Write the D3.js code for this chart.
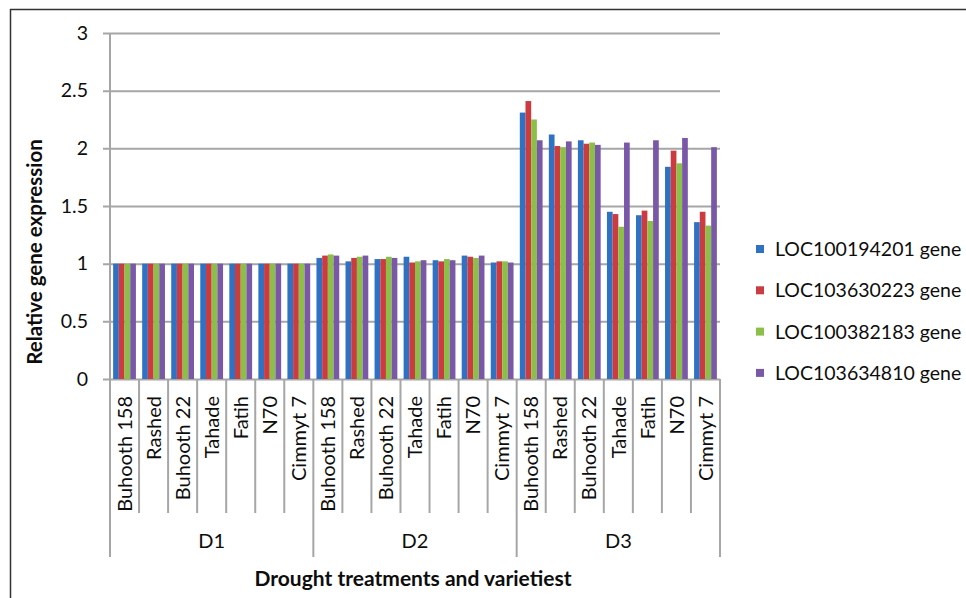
<!DOCTYPE html>
<html>
<head>
<meta charset="utf-8">
<script src="https://cdn.jsdelivr.net/npm/d3@7/dist/d3.min.js"></script>
<style>
  html, body { margin: 0; padding: 0; background: #fff; }
  svg { display: block; font-family: Lato, "Open Sans", sans-serif; }
</style>
</head>
<body>
<svg id="chart" width="966" height="598"></svg>
<script>
// Treatments, varieties and gene series
const treatments = ["D1", "D2", "D3"];
const varieties = ["Buhooth 158", "Rashed", "Buhooth 22", "Tahade", "Fatih", "N70", "Cimmyt 7"];
const genes = ["LOC100194201 gene", "LOC103630223 gene", "LOC100382183 gene", "LOC103634810 gene"];
const geneColors = ["#2f72c4", "#cc3b3f", "#8cbf48", "#7a58a8"];
const yTicks = [0, 0.5, 1, 1.5, 2, 2.5, 3];

// Relative expression per gene, ordered D1 varieties, then D2, then D3
const loc100194201 = [1, 1, 1, 1, 1, 1, 1,
  1.05, 1.02, 1.04, 1.06, 1.03, 1.07, 1.01,
  2.31, 2.12, 2.07, 1.45, 1.42, 1.84, 1.36];
const loc103630223 = [1, 1, 1, 1, 1, 1, 1,
  1.07, 1.05, 1.04, 1.01, 1.02, 1.06, 1.02,
  2.41, 2.02, 2.04, 1.43, 1.46, 1.98, 1.45];
const loc100382183 = [1, 1, 1, 1, 1, 1, 1,
  1.08, 1.06, 1.06, 1.02, 1.04, 1.05, 1.02,
  2.25, 2.01, 2.05, 1.32, 1.37, 1.87, 1.33];
const loc103634810 = [1, 1, 1, 1, 1, 1, 1,
  1.07, 1.07, 1.05, 1.03, 1.03, 1.07, 1.01,
  2.07, 2.06, 2.03, 2.05, 2.07, 2.09, 2.01];
const seriesValues = [loc100194201, loc103630223, loc100382183, loc103634810];

const svg = d3.select("#chart");
const plot = { left: 110, right: 720, top: 33, bottom: 379 };
const gridColor = "#a6a6a6";
const textColor = "#0d0d0d";

// Outer frame (top and left edges)
svg.append("line").attr("x1", 10).attr("x2", 966).attr("y1", 9.5).attr("y2", 9.5)
  .attr("stroke", "#333").attr("stroke-width", 1.5);
svg.append("line").attr("x1", 10.5).attr("x2", 10.5).attr("y1", 9).attr("y2", 598)
  .attr("stroke", "#333").attr("stroke-width", 1.5);

// Flattened category keys
const cats = [];
treatments.forEach(t => varieties.forEach(v => cats.push({ t, v, key: t + "|" + v })));

const x = d3.scaleBand().domain(cats.map(c => c.key)).range([plot.left, plot.right]).padding(0);
const xInner = d3.scaleBand().domain(genes).range([0, x.bandwidth()]).paddingOuter(0.55).paddingInner(0);
const y = d3.scaleLinear().domain([0, 3]).range([plot.bottom, plot.top]);

// Horizontal gridlines with tick labels
const yAxis = d3.axisLeft(y).tickValues(yTicks).tickFormat(d3.format("")).tickSize(0).tickPadding(14);
const gy = svg.append("g").attr("transform", `translate(${plot.left},0)`).call(yAxis);
gy.select(".domain").remove();
gy.selectAll(".tick line").attr("stroke", gridColor).attr("stroke-width", 2)
  .attr("x1", -7).attr("x2", plot.right - plot.left);
gy.selectAll(".tick text").attr("font-size", 19.5).attr("fill", textColor)
  .attr("font-family", "Lato, sans-serif").attr("x", -22);

// Vertical axis line
svg.append("line").attr("x1", plot.left).attr("x2", plot.left)
  .attr("y1", plot.top).attr("y2", plot.bottom).attr("stroke", gridColor).attr("stroke-width", 2);

// Bars
const groups = svg.append("g").selectAll("g").data(cats).join("g")
  .attr("transform", c => `translate(${x(c.key)},0)`);
groups.selectAll("rect").data((c, i) => genes.map((g, j) => ({ g, j, v: seriesValues[j][i] })))
  .join("rect")
  .attr("x", d => xInner(d.g))
  .attr("width", xInner.bandwidth())
  .attr("y", d => y(d.v))
  .attr("height", d => y(0) - y(d.v))
  .attr("fill", d => geneColors[d.j]);

// Category separators below the axis
const catEdges = cats.map(c => x(c.key)).concat([plot.right]);
svg.append("g").selectAll("line").data(catEdges).join("line")
  .attr("x1", d => d).attr("x2", d => d)
  .attr("y1", plot.bottom).attr("y2", (d, i) => (i % varieties.length === 0) ? 557 : 513)
  .attr("stroke", gridColor).attr("stroke-width", 2);

// Variety labels (rotated)
svg.append("g").selectAll("text").data(cats).join("text")
  .attr("transform", c => `translate(${x(c.key) + x.bandwidth() / 2},396) rotate(-90)`)
  .attr("text-anchor", "end").attr("dy", "0.36em")
  .attr("font-size", 20).attr("fill", textColor)
  .text(c => c.v);

// Treatment labels
svg.append("g").selectAll("text").data(treatments).join("text")
  .attr("x", (t, i) => (catEdges[i * varieties.length] + catEdges[(i + 1) * varieties.length]) / 2)
  .attr("y", 541).attr("dy", "0.36em").attr("text-anchor", "middle")
  .attr("font-size", 20).attr("fill", textColor)
  .text(t => t);

// Axis titles
svg.append("text").attr("x", (plot.left + plot.right) / 2 - 2).attr("y", 578).attr("dy", "0.36em")
  .attr("text-anchor", "middle").attr("font-size", 21).attr("font-weight", "bold").attr("fill", textColor)
  .text("Drought treatments and varietiest");
svg.append("text").attr("transform", "translate(35,252) rotate(-90)").attr("dy", "0.36em")
  .attr("text-anchor", "middle").attr("font-size", 20.5).attr("font-weight", "bold").attr("fill", textColor)
  .text("Relative gene expression");

// Legend
const legend = svg.append("g").selectAll("g").data(genes).join("g")
  .attr("transform", (g, i) => `translate(756,${249 + i * 41.3})`);
legend.append("rect").attr("x", 0).attr("y", -4).attr("width", 8).attr("height", 8)
  .attr("fill", (g, i) => geneColors[i]);
legend.append("text").attr("x", 19).attr("dy", "0.36em").attr("font-size", 19.5).attr("fill", textColor)
  .text(g => g);
</script>
</body>
</html>
